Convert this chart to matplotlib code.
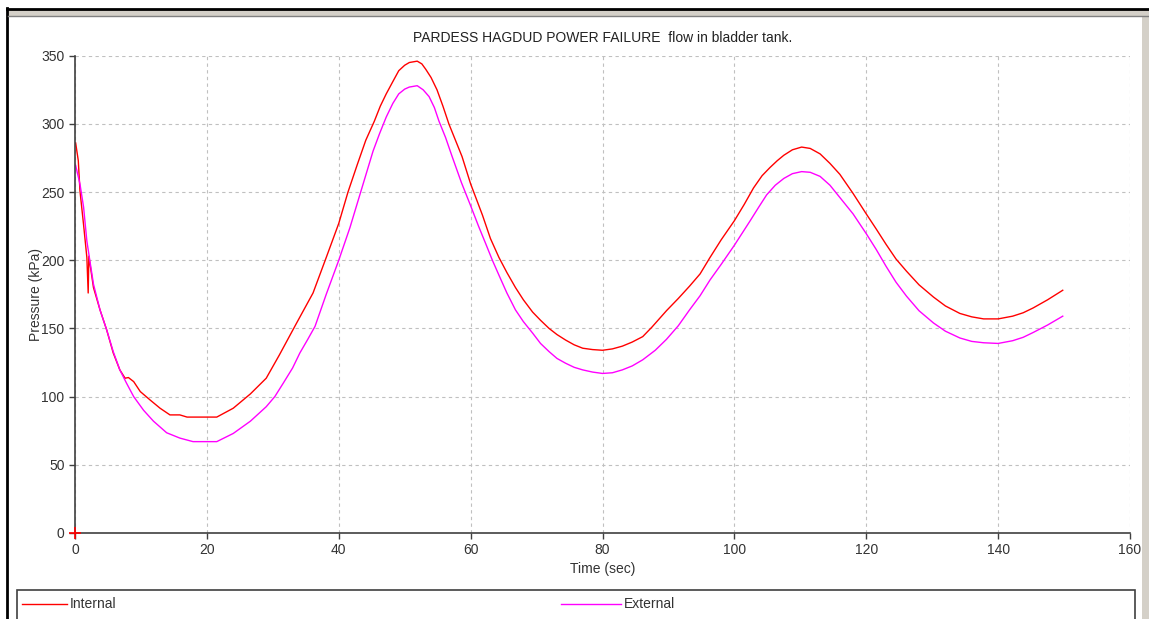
import matplotlib
matplotlib.use("Agg")
import matplotlib.pyplot as plt
from matplotlib.lines import Line2D
from matplotlib.patches import Rectangle

plt.rcParams['font.family'] = ['Liberation Sans', 'DejaVu Sans']

# pressure readings
t_internal = [0.1, 0.5, 0.75, 1.3, 1.8, 2.0, 2.1, 2.8, 3.8, 4.8, 5.8, 6.8, 7.6, 8.1, 8.9, 9.9,
              11.4, 12.9, 14.4, 15.9, 17, 21.5, 24, 26.6, 29, 31, 33.5, 36.1, 38.1, 40, 41.4,
              42.8, 44.1, 45.4, 46.3, 47.2, 48.2, 49.1, 50, 50.7, 51.9, 52.6, 53.2, 54, 54.9,
              55.8, 56.7, 57.7, 58.7, 60, 61.8, 63, 64.3, 65.5, 66.8, 68, 69.4, 70.6, 71.9,
              73.1, 74.4, 75.7, 77, 78.5, 80, 81.5, 83, 84.5, 86.1, 87.5, 89.7, 91.5, 93.2,
              94.8, 96.3, 98, 100, 101.5, 102.9, 104.2, 105.4, 106.5, 107.5, 108.8, 110.2,
              111.5, 113, 114.5, 116, 118, 120, 121.5, 123, 124.5, 126.1, 128, 130.2, 132,
              134.2, 136, 137.8, 140, 142.2, 143.8, 145.3, 147.5, 149.8]
p_internal = [286, 273, 251, 226, 202, 176, 203, 180, 163.5, 149, 132, 119.6, 113.5, 114, 111, 103.7,
              97.5, 91.5, 86.6, 86.6, 85, 85, 91.5, 102, 113.5, 130.6, 153, 176, 202, 227, 250,
              270, 288, 302, 313, 322, 331, 339, 343, 345, 346, 344, 340, 334, 325,
              313, 300, 288, 276, 256, 233, 216, 202, 191, 180, 171, 162, 156, 150,
              145.5, 141.5, 138, 135.5, 134.5, 134, 135, 137, 140, 144, 151, 163, 172, 181,
              190, 202, 215, 229, 241, 253, 262, 268, 273, 277, 281, 283,
              282, 278, 271, 263, 249, 234, 223, 211.7, 201, 192, 182, 173, 166.5,
              161, 158.5, 157, 157, 159, 161.5, 165, 171, 178]

t_external = [0.1, 0.75, 1.3, 1.8, 2.8, 3.8, 4.8, 5.8, 6.8, 7.8, 8.9, 10.4, 11.9, 13.9, 15.9, 17.9,
              21.5, 24, 26.6, 29, 30.3, 31.6, 33, 34.1, 35.3, 36.4, 38.1, 40, 41.7, 42.7, 43.7,
              45.2, 46.2, 47.2, 48.2, 49.1, 50, 50.7, 51.9, 52.8, 53.7, 54.5, 55.2, 56.2, 57.2,
              58.6, 60, 61.2, 62.3, 63.3, 64.3, 65.5, 66.8, 68, 69.4, 70.6, 71.9, 73.1, 74.4,
              75.7, 77, 78.5, 80, 81.5, 83, 84.5, 86.1, 88, 89.7, 91.5, 93.2, 94.8, 96.3, 98,
              100, 101.2, 102.4, 103.7, 104.9, 106.2, 107.5, 108.8, 110.2, 111.5, 113, 114.5,
              116, 118, 120, 121.5, 123, 124.5, 126.1, 128, 130.2, 132, 134.2, 136, 137.8, 140,
              142.2, 143.8, 145.3, 147.5, 149.8]
p_external = [269.5, 256, 239, 214, 182.5, 163.5, 149, 133, 119.6, 110, 100, 90, 82, 73.5, 69.6, 67,
              67, 73, 82, 92.6, 100, 110, 121, 132, 142, 151.5, 175, 200, 224, 240, 256,
              280, 293, 305, 315, 322, 325.5, 327, 328, 325, 320, 312, 302, 290, 276,
              257, 240, 225, 212, 200, 189, 176, 163.6, 155, 146.6, 139, 133, 128, 124.5,
              121.5, 119.6, 118, 117, 117.5, 119.6, 122.5, 127, 134, 142, 152, 163.6, 174, 185.5, 197,
              211, 220, 229, 239, 248, 255, 260, 263.5, 265, 264.5, 261.5, 255,
              246, 234, 219.5, 208, 195.6, 184, 173.7, 163, 154, 148, 143, 140.5, 139.5, 139,
              141, 143.5, 147, 152.5, 159]

x_ticks = [0, 20, 40, 60, 80, 100, 120, 140, 160]
y_ticks = [0, 50, 100, 150, 200, 250, 300, 350]

W, H = 1149, 619
fig = plt.figure(figsize=(W / 100, H / 100), dpi=100)
fig.patch.set_facecolor("white")

ax = fig.add_axes([75 / W, 1 - 533 / H, (1130 - 75) / W, (533 - 55.7) / H])
ax.plot(t_internal, p_internal, color="#ff0000", lw=1.0, label="Internal")
ax.plot(t_external, p_external, color="#ff00ff", lw=1.0, label="External")
ax.plot([0], [0], marker="+", color="#ff0000", ms=9, mew=1.2, clip_on=False, zorder=5)

ax.set_xlim(0, 160)
ax.set_ylim(0, 350)
ax.set_xticks(x_ticks)
ax.set_yticks(y_ticks)
ax.grid(True, color="#c0c0c0", ls=(0, (3, 3)), lw=0.8)
for s in ["top", "right"]:
    ax.spines[s].set_visible(False)
for s in ["left", "bottom"]:
    ax.spines[s].set_color("#404040")
    ax.spines[s].set_linewidth(1.2)
ax.tick_params(axis="both", colors="#404040", labelcolor="#333333", labelsize=10, length=4, width=1)
ax.set_xlabel("Time (sec)", fontsize=10, color="#333333", labelpad=3)
ax.set_ylabel("Pressure (kPa)", fontsize=10, color="#333333", labelpad=-1)
ax.set_title("PARDESS HAGDUD POWER FAILURE  flow in bladder tank.", fontsize=10, color="#222222", pad=10)

# window frame
fig.add_artist(Line2D([7 / W, 7 / W], [0, 1 - 8 / H], color="black", lw=2.0))
fig.add_artist(Line2D([7 / W, 1], [1 - 9 / H, 1 - 9 / H], color="black", lw=2.0))
fig.add_artist(Rectangle((8 / W, 1 - 16 / H), 1 - 8 / W, 6 / H, color="#d4d0c8", lw=0))
fig.add_artist(Line2D([8 / W, 1], [1 - 15.5 / H, 1 - 15.5 / H], color="#808080", lw=1.0))
fig.add_artist(Rectangle((1142 / W, 0), 7 / W, 1 - 16 / H, color="#d4d0c8", lw=0))

# legend panel
fig.add_artist(Rectangle((17 / W, -0.01), (1135 - 17) / W, 0.01 + 1 - 590 / H,
                         fill=False, edgecolor="#404040", lw=1.2))
ly = 1 - 604 / H
fig.add_artist(Line2D([22 / W, 67 / W], [ly, ly], color="#ff0000", lw=1.0))
fig.text(70 / W, ly, "Internal", fontsize=10, color="#333333", va="center")
fig.add_artist(Line2D([561 / W, 621 / W], [ly, ly], color="#ff00ff", lw=1.0))
fig.text(624 / W, ly, "External", fontsize=10, color="#333333", va="center")

fig.savefig("out.png", dpi=100)
